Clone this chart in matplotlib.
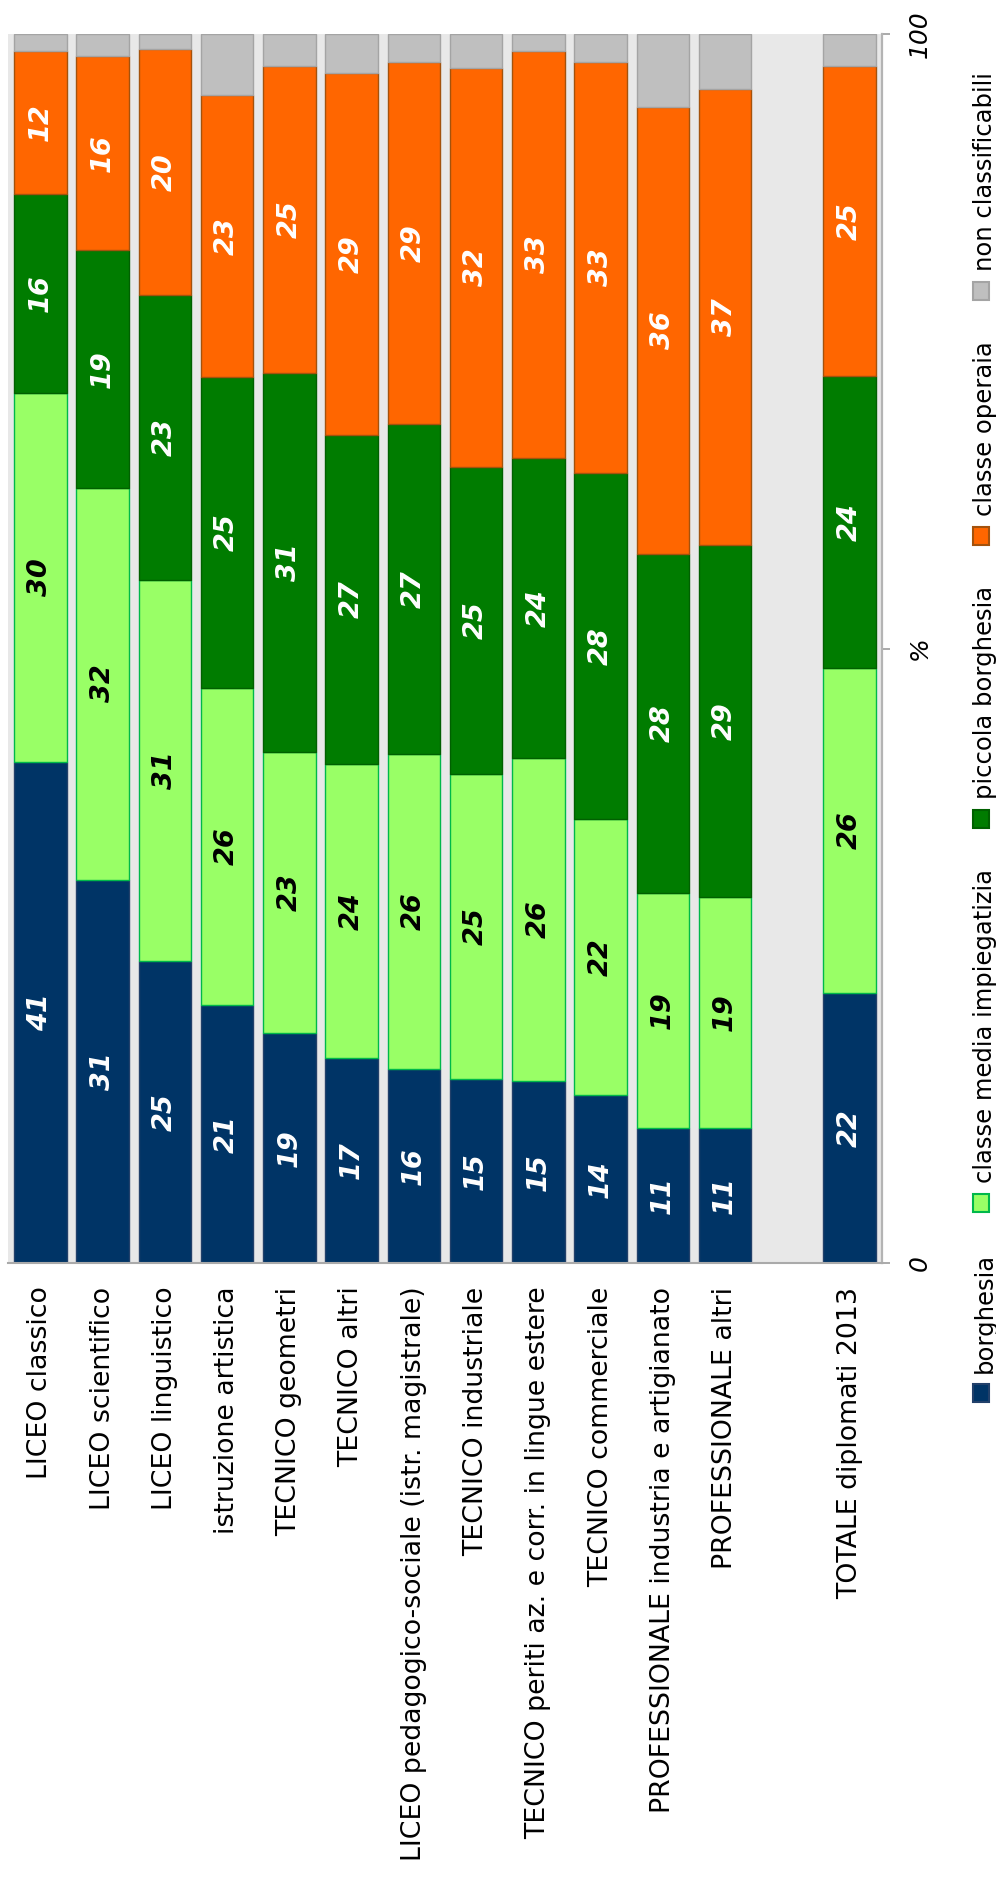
#!/usr/bin/env python
"""Stacked bars: class of origin of 2013 Italian diploma holders, by school type (rotated layout)."""

import matplotlib
import numpy as np

matplotlib.use("Agg")
import matplotlib.pyplot as plt
from matplotlib.patches import Rectangle

categories = [
    "LICEO classico",
    "LICEO scientifico",
    "LICEO linguistico",
    "istruzione artistica",
    "TECNICO geometri",
    "TECNICO altri",
    "LICEO pedagogico-sociale (istr. magistrale)",
    "TECNICO industriale",
    "TECNICO periti az. e corr. in lingue estere",
    "TECNICO commerciale",
    "PROFESSIONALE industria e artigianato",
    "PROFESSIONALE altri",
    "TOTALE diplomati 2013",
]

borghesia = [40.8, 31.2, 24.6, 21.0, 18.7, 16.7, 15.8, 15.0, 14.8, 13.7, 11.0, 11.0, 22.0]
media_impiegatizia = [30.0, 31.9, 31.0, 25.8, 22.9, 23.9, 25.6, 24.8, 26.3, 22.4, 19.1, 18.8, 26.4]
piccola_borghesia = [16.2, 19.3, 23.2, 25.3, 30.8, 26.8, 26.9, 25.0, 24.4, 28.2, 27.6, 28.6, 23.8]
classe_operaia = [11.6, 15.8, 20.0, 22.9, 25.0, 29.4, 29.4, 32.4, 33.1, 33.4, 36.4, 37.1, 25.2]
non_classificabili = [1.4, 1.8, 1.2, 5.0, 2.6, 3.2, 2.3, 2.8, 1.4, 2.3, 5.9, 4.5, 2.6]

series_names = [
    "borghesia",
    "classe media impiegatizia",
    "piccola borghesia",
    "classe operaia",
    "non classificabili",
]
series_values = [borghesia, media_impiegatizia, piccola_borghesia, classe_operaia, non_classificabili]
fill_colors = ["#003466", "#99ff66", "#007c00", "#ff6600", "#bfbfbf"]
edge_colors = ["#22406a", "#00b84a", "#006000", "#a4520c", "#a4a4a4"]
label_colors = ["white", "black", "white", "white", None]

W, H = 996, 1888


def px_x(x):
    return x / W


def px_y(y):
    return 1 - y / H


plt.rcParams["font.family"] = ["DejaVu Sans"]

fig = plt.figure(figsize=(W / 100, H / 100), dpi=100)
ax = fig.add_axes([px_x(8), px_y(1263), px_x(882 - 8), (1263 - 34) / H])
ax.set_facecolor("#e8e8e8")

# leave one empty slot before the total bar
positions = np.array(list(range(len(categories) - 1)) + [len(categories)])

bottom = np.zeros(len(categories))
for vals, fc, ec, tc in zip(series_values, fill_colors, edge_colors, label_colors):
    vals = np.asarray(vals)
    ax.bar(positions, vals, bottom=bottom, width=0.84, color=fc, edgecolor=ec, linewidth=1.0, zorder=2)
    if tc is not None:
        for xp, b, v in zip(positions, bottom, vals):
            ax.text(xp, b + v / 2, f"{v:.0f}", rotation=90, ha="center", va="center",
                    color=tc, fontsize=19.5, fontweight="bold", fontstyle="italic", zorder=3)
    bottom = bottom + vals

ax.set_xlim(-0.52, positions[-1] + 0.52)
ax.set_ylim(0, 100)

ax.set_xticks(positions)
ax.set_xticklabels(categories, rotation=90, ha="center", va="top", fontsize=19.3)
ax.tick_params(axis="x", length=0, pad=17)

ax.yaxis.set_ticks_position("right")
ax.set_yticks([0, 50, 100])
ax.set_yticklabels(["0", "%", "100"], rotation=90, va="center", fontstyle="italic", fontsize=18)
ax.tick_params(axis="y", direction="out", length=5.8, width=1.4, color="#aaaaaa", pad=12.5)

for side in ("top", "left"):
    ax.spines[side].set_visible(False)
ax.spines["bottom"].set_color("#aaaaaa")
ax.spines["bottom"].set_linewidth(1.5)
ax.spines["right"].set_color("#b4b4b4")
ax.spines["right"].set_linewidth(1.6)
for sp in ax.spines.values():
    sp.set_zorder(4)

# legend, stacked upwards along the right edge
renderer = fig.canvas.get_renderer()
y = 1402
for name, fc, ec in zip(series_names, fill_colors, edge_colors):
    fig.patches.append(Rectangle((px_x(973), px_y(y)), 16 / W, 18 / H, transform=fig.transFigure,
                                 facecolor=fc, edgecolor=ec, linewidth=1.5))
    text_bottom = y - 18 - 11
    t = fig.text(px_x(985), px_y(text_bottom), name, rotation=90, ha="center", va="bottom",
                 fontsize=17.5, color="black")
    y = text_bottom - t.get_window_extent(renderer).height - 41

fig.savefig("out.png", dpi=100)
plt.close(fig)
